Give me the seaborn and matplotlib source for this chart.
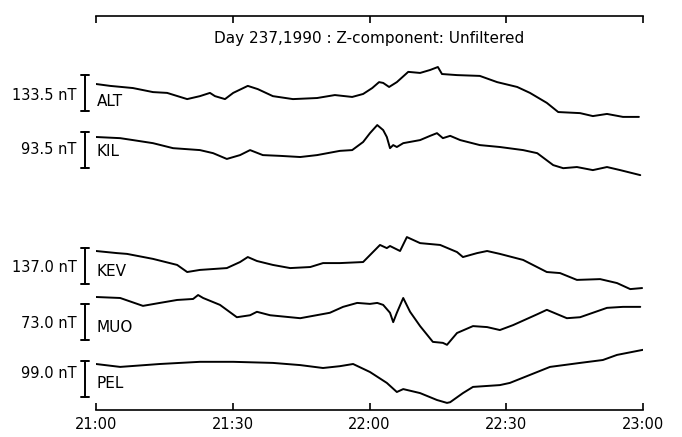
import matplotlib
matplotlib.use("Agg")
import matplotlib.pyplot as plt
import numpy as np
import pandas as pd
import seaborn as sns

# Zeit in Minuten nach 21:00, Werte in nT (Abweichung vom Startwert)
stations = ["ALT", "KIL", "KEV", "MUO", "PEL"]
scales = [133.5, 93.5, 137.0, 73.0, 99.0]

alt_t = [0, 3.1, 8.1, 12.5, 15.6, 20.0, 22.8, 25.0, 26.1, 28.3, 30.1, 33.3, 35.5, 38.8,
         43.2, 48.5, 52.4, 56.2, 58.6, 60.6, 62.1, 63.0, 64.3, 66.0, 68.5, 71.1, 73.3,
         75.0, 75.9, 79.2, 84.2, 88.0, 92.4, 95.2, 98.9, 101.4, 106.2, 109.0, 112.1,
         115.6, 119.1]
alt_v = [0, -7, -15, -30, -33, -56, -45, -33, -45, -56, -33, -7, -19, -45,
         -56, -52, -41, -48, -37, -15, 7, 4, -11, 7, 45, 41, 52,
         63, 37, 33, 30, 7, -11, -33, -70, -104, -108, -119, -111,
         -122, -122]

kil_t = [0, 5.3, 8.1, 12.5, 16.9, 22.8, 25.7, 28.7, 31.6, 33.8, 36.6, 40.4, 44.8, 48.5,
         53.5, 56.2, 58.6, 60.1, 61.7, 63.0, 63.8, 64.5, 65.2, 66.0, 67.4, 71.1, 73.3,
         74.8, 76.1, 77.7, 79.9, 84.2, 88.6, 93.7, 96.8, 100.3, 102.5, 105.5, 109.0,
         112.1, 115.0, 119.4]
kil_v = [0, -3, -8, -16, -29, -34, -42, -57, -47, -34, -47, -49, -52, -47,
         -36, -34, -13, 10, 31, 18, 0, -29, -21, -26, -16, -8, 3,
         10, -3, 3, -8, -21, -26, -34, -42, -73, -81, -78, -86,
         -78, -86, -99]

kev_t = [0, 4.6, 6.8, 12.5, 17.8, 20.0, 22.8, 28.7, 31.6, 33.3, 35.3, 38.8, 42.6, 47.0,
         49.8, 53.5, 58.6, 62.3, 63.8, 64.5, 66.7, 68.2, 71.1, 75.5, 79.2, 80.5, 83.6,
         85.8, 88.6, 93.7, 98.9, 101.8, 105.5, 110.6, 114.3, 117.2, 119.8]
kev_v = [0, -8, -11, -30, -53, -80, -72, -65, -42, -23, -38, -53, -65, -61,
         -46, -46, -42, 23, 11, 19, 0, 53, 30, 23, -4, -23, -8,
         0, -11, -34, -80, -84, -110, -107, -122, -145, -141]

muo_t = [0, 5.3, 10.3, 14.0, 17.8, 21.3, 22.4, 23.5, 27.2, 30.9, 33.8, 35.3, 38.2, 44.8,
         51.3, 54.2, 57.3, 60.1, 61.7, 63.0, 64.5, 65.2, 66.0, 67.4, 68.9, 71.1, 73.9,
         76.1, 77.0, 79.2, 82.7, 85.8, 88.6, 91.5, 96.8, 98.9, 103.3, 106.2, 112.1,
         115.6, 119.4]
muo_v = [0, -2, -18, -12, -6, -4, 4, -2, -16, -41, -37, -30, -37, -43,
         -32, -20, -12, -14, -12, -16, -32, -51, -32, -2, -30, -59, -91,
         -93, -97, -73, -59, -61, -67, -57, -35, -26, -43, -41, -22,
         -20, -20]

pel_t = [0, 5.3, 14.0, 22.8, 30.1, 38.8, 44.8, 49.8, 53.5, 56.4, 60.1, 63.8, 66.0, 67.4,
         71.1, 74.8, 77.0, 77.7, 80.5, 82.7, 88.6, 90.8, 95.2, 99.6, 106.2, 111.2,
         114.3, 120.0]
pel_v = [0, -8, 0, 6, 6, 3, -3, -11, -6, 0, -22, -52, -77, -69,
         -80, -99, -107, -105, -80, -63, -58, -52, -30, -8, 3, 11,
         25, 39]

tick_pos = [0, 30, 60, 90, 120]
tick_labels = ["21:00", "21:30", "22:00", "22:30", "23:00"]
title = "Day 237,1990 : Z-component: Unfiltered"

# Layout (Pixelzeilen)
base = [84, 137, 251, 297, 364]
bar_top = [75, 132, 248, 304, 361]
bar_px = 36
label_y = [95, 150, 268, 323, 373]
name_y = [101, 151, 272, 327, 384]

sns.set_style("white")
plt.rcParams["font.family"] = ["DejaVu Sans"]
plt.rcParams["text.color"] = "black"
plt.rcParams["xtick.color"] = "black"

fig = plt.figure(figsize=(6.82, 4.37), dpi=100)
ax = fig.add_axes([96 / 682, 1 - 410 / 437, 547 / 682, 394 / 437])

traces = [(alt_t, alt_v), (kil_t, kil_v), (kev_t, kev_v), (muo_t, muo_v), (pel_t, pel_v)]
for i, (t, v) in enumerate(traces):
    df = pd.DataFrame({"t": t, "v": v})
    df["y"] = base[i] - df["v"] * bar_px / scales[i]
    sns.lineplot(data=df, x="t", y="y", color="black", lw=1.4, ax=ax, sort=False)

    # Skalenbalken
    x_bar = -2.4
    y0, y1 = bar_top[i], bar_top[i] + bar_px
    ax.plot([x_bar, x_bar], [y0, y1], color="black", lw=1.4, clip_on=False)
    ax.plot([x_bar - 0.9, x_bar + 0.9], [y0, y0], color="black", lw=1.4, clip_on=False)
    ax.plot([x_bar - 0.9, x_bar + 0.9], [y1, y1], color="black", lw=1.4, clip_on=False)
    ax.text(-4.2, label_y[i], f"{scales[i]:.1f} nT", ha="right", va="center",
            fontsize=10.5, color="black", clip_on=False)
    ax.text(0.2, name_y[i], stations[i], ha="left", va="center", fontsize=11,
            color="black")

ax.text(60, 38, title, ha="center", va="center", fontsize=11, color="black")

ax.set_xlim(0, 120)
ax.set_ylim(410, 16)
ax.set_xticks(tick_pos)
ax.set_xticklabels(tick_labels, fontsize=10.5, color="black")
ax.set_yticks([])
ax.set_xlabel("")
ax.set_ylabel("")
for s in ["left", "right"]:
    ax.spines[s].set_visible(False)
for s in ["top", "bottom"]:
    ax.spines[s].set_linewidth(1.2)
    ax.spines[s].set_color("black")
ax.tick_params(axis="x", top=True, bottom=True, direction="in", length=5,
               width=1.2, color="black", pad=5)

fig.savefig("out.png", dpi=100)
